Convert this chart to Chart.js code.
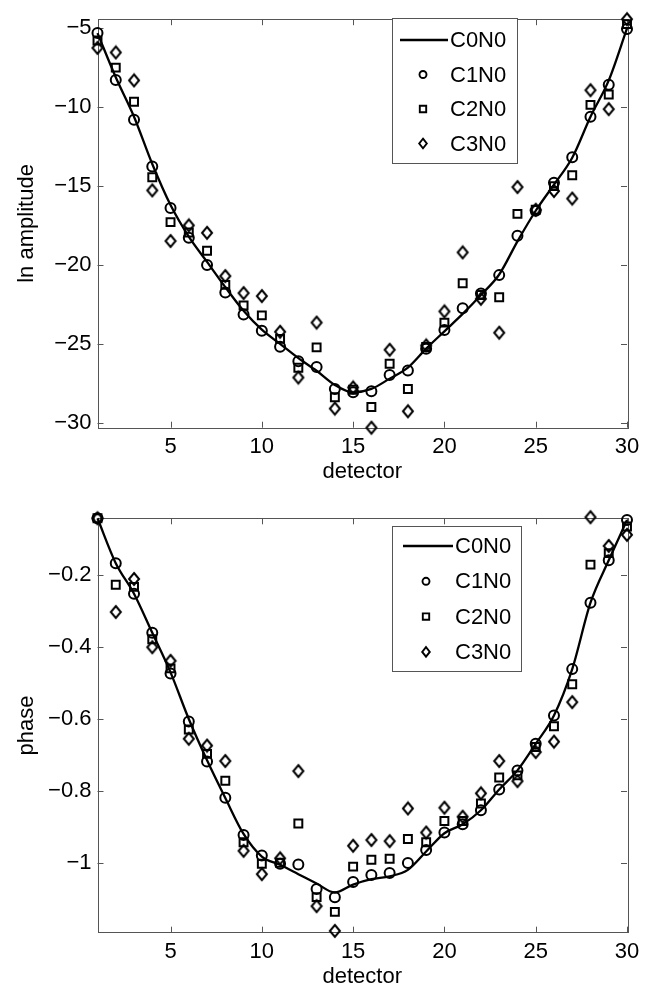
<!DOCTYPE html>
<html>
<head>
<meta charset="utf-8">
<script src="https://cdn.jsdelivr.net/npm/chart.js@4.4.1/dist/chart.umd.min.js"></script>
<style>
  html, body { margin: 0; padding: 0; background: #fff; overflow: hidden; }
  canvas { position: absolute; left: 0; }
  #ampChart { top: 0; }
  #phaseChart { top: 494px; }
</style>
</head>
<body>
<canvas id="ampChart" width="666" height="494"></canvas>
<canvas id="phaseChart" width="666" height="494"></canvas>
<script>
// detector index (x axis)
const detector = [1, 2, 3, 4, 5, 6, 7, 8, 9, 10, 11, 12, 13, 14, 15, 16, 17, 18, 19, 20, 21, 22, 23, 24, 25, 26, 27, 28, 29, 30];
const seriesNames = ["C0N0", "C1N0", "C2N0", "C3N0"];

// ln amplitude
const ampC0N0 = [-5.3, -8.1, -10.6, -13.6, -16.2, -18.2, -19.8, -21.4, -22.9, -24.1, -25.0, -25.9, -26.7, -27.6, -28.07, -27.85, -27.2, -26.5, -25.3, -24.2, -23.1, -21.9, -20.6, -18.5, -16.56, -14.9, -13.2, -10.6, -8.3, -5.0];
const ampC1N0 = [-5.29, -8.28, -10.79, -13.76, -16.38, -18.27, -20.0, -21.74, -23.13, -24.17, -25.18, -26.1, -26.47, -27.86, -28.07, -28.0, -26.97, -26.68, -25.3, -24.12, -22.74, -21.8, -20.64, -18.15, -16.56, -14.79, -13.17, -10.6, -8.57, -5.04];
const ampC2N0 = [-5.77, -7.49, -9.65, -14.44, -17.28, -17.94, -19.1, -21.26, -22.57, -23.19, -24.68, -26.51, -25.22, -28.38, -27.9, -29.0, -26.26, -27.86, -25.2, -23.65, -21.16, -21.9, -22.04, -16.76, -16.5, -15.0, -14.31, -9.85, -9.19, -4.73];
const ampC3N0 = [-6.24, -6.53, -8.3, -15.27, -18.48, -17.49, -17.96, -20.7, -21.78, -21.97, -24.23, -27.13, -23.65, -29.1, -27.76, -30.31, -25.37, -29.27, -25.1, -22.94, -19.2, -22.14, -24.29, -15.06, -16.5, -15.31, -15.79, -8.92, -10.12, -4.42];

// phase
const phaseC0N0 = [-0.041, -0.166, -0.251, -0.36, -0.47, -0.6, -0.715, -0.82, -0.92, -0.983, -1.006, -1.032, -1.058, -1.083, -1.061, -1.046, -1.038, -1.02, -0.969, -0.918, -0.893, -0.854, -0.796, -0.743, -0.669, -0.59, -0.461, -0.276, -0.158, -0.046];
const phaseC1N0 = [-0.041, -0.166, -0.251, -0.36, -0.473, -0.607, -0.718, -0.819, -0.923, -0.98, -1.003, -1.005, -1.073, -1.096, -1.054, -1.034, -1.029, -1.001, -0.965, -0.916, -0.893, -0.854, -0.796, -0.743, -0.669, -0.59, -0.461, -0.276, -0.158, -0.046];
const phaseC2N0 = [-0.041, -0.226, -0.232, -0.378, -0.459, -0.629, -0.697, -0.772, -0.943, -1.003, -1.0, -0.891, -1.096, -1.137, -1.011, -0.992, -0.989, -0.934, -0.943, -0.884, -0.884, -0.835, -0.763, -0.757, -0.678, -0.62, -0.503, -0.17, -0.138, -0.064];
const phaseC3N0 = [-0.041, -0.302, -0.21, -0.4, -0.438, -0.655, -0.674, -0.717, -0.967, -1.032, -0.988, -0.745, -1.121, -1.19, -0.953, -0.937, -0.94, -0.849, -0.916, -0.847, -0.872, -0.807, -0.717, -0.773, -0.692, -0.663, -0.553, -0.038, -0.118, -0.087];

// axis limits and ticks
const xLimits = [1, 30];
const xTicks = [5, 10, 15, 20, 25, 30];
const ampLimits = [-30.31, -4.42];
const ampTicks = [-30, -25, -20, -15, -10, -5];
const phaseLimits = [-1.195, -0.041];
const phaseTicks = [-1, -0.8, -0.6, -0.4, -0.2];

Chart.defaults.font.family = '"Liberation Sans", Arial, sans-serif';
Chart.defaults.color = "#000";

// taller diamond marker, like matlab's 'd'
function diamondImage(w, h, lw) {
  const c = document.createElement("canvas");
  c.width = w; c.height = h;
  const g = c.getContext("2d");
  g.strokeStyle = "#000";
  g.lineWidth = lw;
  g.beginPath();
  g.moveTo(w / 2, lw);
  g.lineTo(w - lw, h / 2);
  g.lineTo(w / 2, h - lw);
  g.lineTo(lw, h / 2);
  g.closePath();
  g.stroke();
  return c;
}
const diamondPt = diamondImage(14, 16, 2);

const pts = (ys) => detector.map((d, i) => ({ x: d, y: ys[i] }));

function makeDatasets(c0, c1, c2, c3) {
  return [
    { label: seriesNames[0], data: pts(c0), showLine: true, borderColor: "#000", borderWidth: 2.3,
      pointRadius: 0, cubicInterpolationMode: "monotone", clip: false, marker: "line" },
    { label: seriesNames[1], data: pts(c1), showLine: false, pointStyle: "circle", pointRadius: 5,
      borderColor: "#000", backgroundColor: "rgba(0,0,0,0)", pointBorderWidth: 2, clip: false, marker: "circle" },
    { label: seriesNames[2], data: pts(c2), showLine: false, pointStyle: "rect", pointRadius: 5.6,
      borderColor: "#000", backgroundColor: "rgba(0,0,0,0)", pointBorderWidth: 2, clip: false, marker: "square" },
    { label: seriesNames[3], data: pts(c3), showLine: false, pointStyle: diamondPt, pointRadius: 6,
      borderColor: "#000", backgroundColor: "rgba(0,0,0,0)", clip: false, marker: "diamond" }
  ];
}

const fmt = (v) => String(v).replace("-", "\u2212");

// box round the axes with inward tick marks (matlab look)
const boxTicks = {
  id: "boxTicks",
  beforeDatasetsDraw(chart) {
    const { ctx, chartArea: a, scales: { x, y } } = chart;
    ctx.save();
    ctx.strokeStyle = "#555";
    ctx.lineWidth = 1;
    ctx.strokeRect(Math.round(a.left) + 0.5, Math.round(a.top) + 0.5, Math.round(a.width), Math.round(a.height));
    ctx.beginPath();
    x.ticks.forEach((t) => {
      const p = Math.round(x.getPixelForValue(t.value)) + 0.5;
      ctx.moveTo(p, a.bottom); ctx.lineTo(p, a.bottom - 6);
      ctx.moveTo(p, a.top); ctx.lineTo(p, a.top + 6);
    });
    y.ticks.forEach((t) => {
      const p = Math.round(y.getPixelForValue(t.value)) + 0.5;
      ctx.moveTo(a.left, p); ctx.lineTo(a.left + 6, p);
      ctx.moveTo(a.right, p); ctx.lineTo(a.right - 6, p);
    });
    ctx.stroke();
    ctx.restore();
  }
};

// legend box inside the axes, top right
const boxLegend = {
  id: "boxLegend",
  afterDraw(chart, args, o) {
    const ctx = chart.ctx;
    ctx.save();
    ctx.fillStyle = "#fff";
    ctx.fillRect(o.left, o.top, o.width, o.height);
    ctx.strokeStyle = "#555";
    ctx.lineWidth = 1;
    ctx.strokeRect(o.left + 0.5, o.top + 0.5, o.width, o.height);
    ctx.font = '22px "Liberation Sans", Arial, sans-serif';
    ctx.textBaseline = "middle";
    ctx.textAlign = "left";
    chart.data.datasets.forEach((ds, i) => {
      const yy = o.top + o.firstRow + i * o.rowGap;
      const mx = o.markX;
      ctx.strokeStyle = "#000";
      ctx.lineWidth = 1.9;
      ctx.beginPath();
      if (ds.marker === "line") {
        ctx.lineWidth = 2.3;
        ctx.moveTo(o.lineX0, yy); ctx.lineTo(o.lineX1, yy);
      } else if (ds.marker === "circle") {
        ctx.arc(mx, yy, 3.5, 0, Math.PI * 2);
      } else if (ds.marker === "square") {
        ctx.rect(mx - 3.2, yy - 3.2, 6.4, 6.4);
      } else {
        ctx.moveTo(mx, yy - 4.8); ctx.lineTo(mx + 3.8, yy);
        ctx.lineTo(mx, yy + 4.8); ctx.lineTo(mx - 3.8, yy); ctx.closePath();
      }
      ctx.stroke();
      ctx.fillStyle = "#000";
      ctx.fillText(ds.label, o.textX, yy + 1);
    });
    ctx.restore();
  }
};

function makeChart(id, datasets, yLimits, yTicks, yTitle, pad, xHeight, legend) {
  return new Chart(document.getElementById(id), {
    type: "scatter",
    data: { datasets: datasets },
    plugins: [boxTicks, boxLegend],
    options: {
      responsive: false,
      animation: false,
      devicePixelRatio: 1,
      layout: { padding: pad },
      plugins: { legend: { display: false }, tooltip: { enabled: false }, boxLegend: legend },
      scales: {
        x: {
          type: "linear", min: xLimits[0], max: xLimits[1],
          afterBuildTicks: (s) => { s.ticks = xTicks.map((v) => ({ value: v })); },
          afterFit: (s) => { s.height = xHeight; },
          grid: { display: false, drawTicks: false }, border: { display: false },
          ticks: { padding: 6, font: { size: 22 }, maxRotation: 0, autoSkip: false, callback: (v) => fmt(v) },
          title: { display: true, text: "detector", font: { size: 22, lineHeight: 1 }, padding: { top: 0, bottom: 0 } }
        },
        y: {
          type: "linear", min: yLimits[0], max: yLimits[1],
          afterBuildTicks: (s) => { s.ticks = yTicks.map((v) => ({ value: v })); },
          afterFit: (s) => { s.width = 97.5; },
          grid: { display: false, drawTicks: false }, border: { display: false },
          ticks: { padding: 6, font: { size: 22 }, callback: (v) => fmt(v) },
          title: { display: true, text: yTitle, font: { size: 22, lineHeight: 1 }, padding: { top: 16, bottom: 0 } }
        }
      }
    }
  });
}

makeChart("ampChart", makeDatasets(ampC0N0, ampC1N0, ampC2N0, ampC3N0), ampLimits, ampTicks, "ln amplitude",
  { top: 11.7, right: 39, bottom: 11, left: 0 }, 55.3,
  { left: 392, top: 18, width: 125, height: 145, firstRow: 22, rowGap: 34.5, markX: 423, lineX0: 400, lineX1: 448, textX: 450 });

makeChart("phaseChart", makeDatasets(phaseC0N0, phaseC1N0, phaseC2N0, phaseC3N0), phaseLimits, phaseTicks, "phase",
  { top: 24.3, right: 39, bottom: 0, left: 0 }, 55.3,
  { left: 392, top: 32, width: 129, height: 145, firstRow: 20, rowGap: 35.3, markX: 426, lineX0: 403, lineX1: 453, textX: 455 });
</script>
</body>
</html>
